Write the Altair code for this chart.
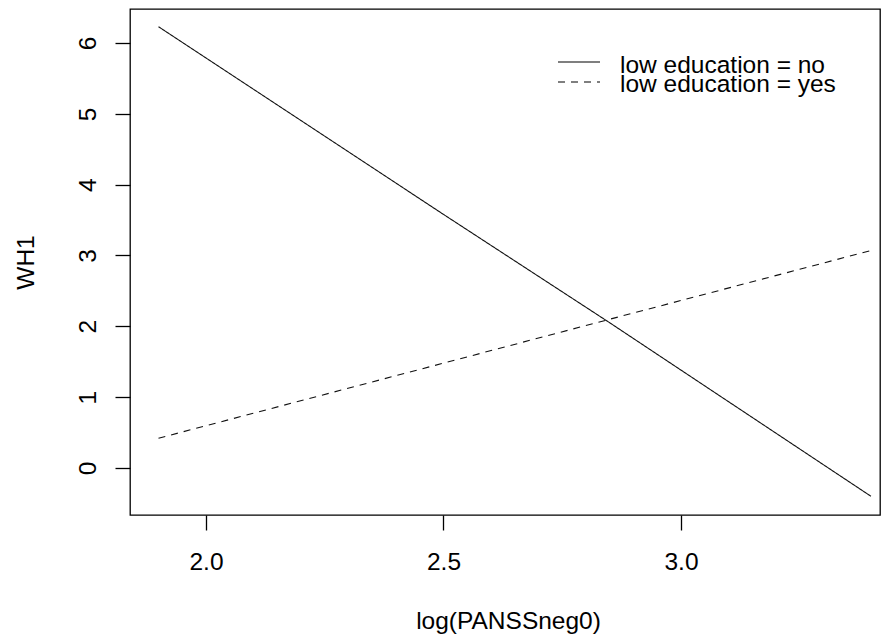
import altair as alt
import pandas as pd

# Values
x_vals = [1.90, 2.50, 2.85, 3.40]
wh1_no = [6.23, 3.58, 2.05, -0.40]
wh1_yes = [0.42, 1.48, 2.10, 3.07]
groups = ["no", "yes"]
legend_labels = ["low education = no", "low education = yes"]
x_ticks = [2.0, 2.5, 3.0]
y_ticks = [0, 1, 2, 3, 4, 5, 6]

df = pd.DataFrame({
    "x": x_vals + x_vals,
    "y": wh1_no + wh1_yes,
    "g": [groups[0]] * len(x_vals) + [groups[1]] * len(x_vals),
})
leg1 = pd.DataFrame({"label": [legend_labels[0]]})
leg2 = pd.DataFrame({"label": [legend_labels[1]]})

FONT = "Liberation Sans"
FS = 24.5
W, H = 750, 506

xs = alt.Scale(domain=[1.84, 3.4190], nice=False, zero=False)
ys = alt.Scale(domain=[-0.664, 6.48], nice=False, zero=False)

x_axis = alt.Axis(
    values=x_ticks, format=".1f", title="log(PANSSneg0)",
    grid=False, domain=False, tickSize=15, tickColor="black", tickWidth=1.3,
    labelFont=FONT, labelFontSize=FS, labelColor="black", labelPadding=20,
    titleFont=FONT, titleFontSize=FS, titleFontWeight="normal", titleColor="black",
    titleX=378, titleY=113, titleAlign="center", titleBaseline="alphabetic",
)
y_axis = alt.Axis(
    values=y_ticks, format="d", title="WH1",
    grid=False, domain=False, tickSize=15, tickColor="black", tickWidth=1.3,
    labelFont=FONT, labelFontSize=FS, labelColor="black", labelPadding=20,
    labelAngle=270, labelAlign="center", labelBaseline="alphabetic",
    titleFont=FONT, titleFontSize=FS, titleFontWeight="normal", titleColor="black",
    titleAngle=270, titleX=-97, titleY=H / 2, titleAlign="center", titleBaseline="alphabetic",
)

lines = alt.Chart(df).mark_line(color="#111111", strokeWidth=1.1).encode(
    x=alt.X("x:Q", scale=xs, axis=x_axis),
    y=alt.Y("y:Q", scale=ys, axis=y_axis),
    strokeDash=alt.StrokeDash("g:N", scale=alt.Scale(domain=groups, range=[[1, 0], [7, 6]]), legend=None),
    detail="g:N",
)

leg_line1 = alt.Chart(leg1).mark_rule(color="black", strokeWidth=1.1).encode(
    x=alt.value(428), x2=alt.value(470), y=alt.value(53))
leg_line2 = alt.Chart(leg2).mark_rule(color="black", strokeWidth=1.1, strokeDash=[7, 6]).encode(
    x=alt.value(428), x2=alt.value(470), y=alt.value(73))
leg_text1 = alt.Chart(leg1).mark_text(
    align="left", baseline="alphabetic", font=FONT, fontSize=FS, color="black").encode(
    x=alt.value(490), y=alt.value(64), text="label:N")
leg_text2 = alt.Chart(leg2).mark_text(
    align="left", baseline="alphabetic", font=FONT, fontSize=FS, color="black").encode(
    x=alt.value(490), y=alt.value(83), text="label:N")

chart = alt.layer(lines, leg_line1, leg_line2, leg_text1, leg_text2).properties(
    width=W, height=H,
    autosize=alt.AutoSizeParams(type="none"),
    padding={"left": 122, "top": 1, "right": 1, "bottom": 119},
    background="white",
).configure_view(stroke="black", strokeWidth=1.3)

chart.save("out.html", embed_options={"renderer": "svg", "actions": False})
